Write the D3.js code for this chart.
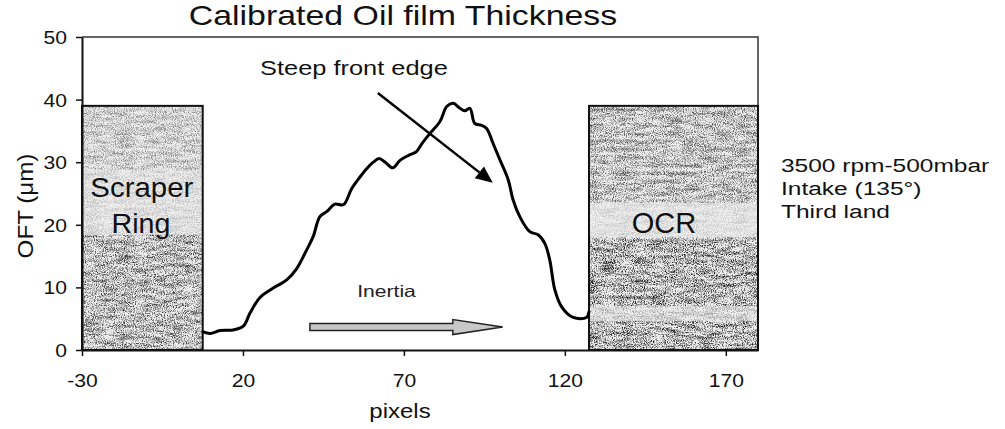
<!DOCTYPE html>
<html>
<head>
<meta charset="utf-8">
<script src="https://cdn.jsdelivr.net/npm/d3@7"></script>
<style>
  body { margin:0; background:#fff; }
  svg { display:block; font-family:"Liberation Sans", Arial, sans-serif; }
  text { fill:#111; }
</style>
</head>
<body>
<div id="chart"></div>
<script>
// curve (pixels vs OFT in um)
var pixels = [7.6, 9.8, 12.9, 17.0, 20.1, 22.2, 25.3, 29.4, 33.6, 36.7, 39.8, 41.8, 43.9, 46.0, 48.6, 51.2, 53.8, 56.3, 58.5, 60.5,
  62.3, 64.2, 66.5, 68.8, 71.9, 73.9, 75.5, 78.1, 81.2, 83.3, 85.3, 87.2, 88.9, 90.5, 92.0, 94.1, 95.7, 97.7, 99.8, 102.4,
  103.9, 106.0, 109.1, 111.7, 113.8, 115.3, 116.9, 119.0, 122.6, 126.7, 127.5]
var oft = [2.9, 2.65, 3.1, 3.2, 3.8, 5.9, 8.4, 9.9, 11.2, 13.0, 16.0, 18.1, 21.3, 22.1, 23.3, 23.2, 25.8, 27.6, 29.0, 30.0,
  30.6, 30.0, 29.1, 30.3, 31.2, 31.7, 32.9, 34.6, 36.5, 38.9, 39.4, 38.7, 38.2, 38.6, 36.2, 35.9, 35.4, 33.0, 30.4, 27.2,
  24.0, 21.3, 18.9, 18.4, 17.0, 14.4, 9.6, 6.9, 5.2, 5.2, 6.1]

var xTicks = [-30, 20, 70, 120, 170]
var yTicks = [0, 10, 20, 30, 40, 50]

// ring shadows
var rings = [
  {name:["Scraper","Ring"], x0:-30, x1:7.5, top:39},
  {name:["OCR"], x0:127.5, x1:180, top:39}
]
// grey bands inside each ring box: [from, to, darkness]
var scraperBands = [[39, 28.8, 0.45], [28.8, 18.4, 0.22], [18.4, 0, 0.75]]
var ocrBands = [[39, 23.5, 0.65], [23.5, 18, 0.18], [18, 7, 0.85], [7, 4.6, 0.35], [4.6, 0, 0.85]]

var notes = ["3500 rpm-500mbar", "Intake (135\u00b0)", "Third land"]

var W = 1005, H = 429
var svg = d3.select('#chart').append('svg').attr('width', W).attr('height', H)

var x = d3.scaleLinear().domain([-30, 180]).range([82, 758])
var y = d3.scaleLinear().domain([0, 50]).range([350, 37])

function addText(parent, px, py, str, size, sx, anchor){
  return parent.append('text')
    .attr('transform', 'translate(' + px + ',' + py + ') scale(' + sx + ',1)')
    .attr('text-anchor', anchor || 'start')
    .style('font-size', size + 'px')
    .text(str)
}

// speckle texture for the shaded boxes
var defs = svg.append('defs')
var f = defs.append('filter').attr('id', 'speckle')
  .attr('x', 0).attr('y', 0).attr('width', 1).attr('height', 1)
  .attr('color-interpolation-filters', 'sRGB')
f.append('feTurbulence').attr('type', 'fractalNoise').attr('baseFrequency', '0.9 0.9')
  .attr('numOctaves', 2).attr('seed', 4).attr('result', 'n1')
f.append('feTurbulence').attr('type', 'fractalNoise').attr('baseFrequency', '0.06 0.25')
  .attr('numOctaves', 2).attr('seed', 11).attr('result', 'n2')
f.append('feComposite').attr('in', 'n1').attr('in2', 'n2').attr('operator', 'arithmetic')
  .attr('k1', 0).attr('k2', 0.8).attr('k3', 0.35).attr('k4', -0.07).attr('result', 'n')
f.append('feColorMatrix').attr('in', 'n').attr('type', 'matrix')
  .attr('values', '0 0 0 0 0  0 0 0 0 0  0 0 0 0 0  3.2 0 0 0 -1.1').attr('result', 'dots')
f.append('feGaussianBlur').attr('in', 'dots').attr('stdDeviation', 0.4).attr('result', 'soft')
f.append('feComposite').attr('in', 'soft').attr('in2', 'SourceAlpha').attr('operator', 'in')

// frame: top and right edge
svg.append('path')
  .attr('d', 'M' + x(-30) + ',' + y(50) + 'H' + x(180) + 'V' + y(39))
  .attr('fill', 'none').attr('stroke', '#333').attr('stroke-width', 1.5)

// boxes for the rings
var boxes = svg.selectAll('g.ring').data(rings).enter().append('g').attr('class', 'ring')
boxes.append('rect')
  .attr('x', function(d){ return x(d.x0) })
  .attr('y', function(d){ return y(d.top) })
  .attr('width', function(d){ return x(d.x1) - x(d.x0) })
  .attr('height', function(d){ return y(0) - y(d.top) })
  .attr('fill', '#eeeeee')

boxes.each(function(d, i){
  var bands = (i == 0) ? scraperBands : ocrBands
  d3.select(this).selectAll('rect.band').data(bands).enter().append('rect')
    .attr('class', 'band')
    .attr('x', x(d.x0))
    .attr('y', function(b){ return y(b[0]) })
    .attr('width', x(d.x1) - x(d.x0))
    .attr('height', function(b){ return y(b[1]) - y(b[0]) })
    .attr('fill', '#000')
    .attr('opacity', function(b){ return b[2] })
    .attr('filter', 'url(#speckle)')
})

boxes.append('rect')
  .attr('x', function(d){ return x(d.x0) })
  .attr('y', function(d){ return y(d.top) })
  .attr('width', function(d){ return x(d.x1) - x(d.x0) })
  .attr('height', function(d){ return y(0) - y(d.top) })
  .attr('fill', 'none').attr('stroke', '#111').attr('stroke-width', 2)

// box labels
addText(svg, x(-11.4), 197, rings[0].name[0], 27, 1.09, 'middle')
addText(svg, x(-11.7), 233, rings[0].name[1], 27, 1.06, 'middle')
addText(svg, x(150.8), 233, rings[1].name[0], 29, 1.0, 'middle')

// axes
var plain = function(d){ return String(d) }
var yAxis = svg.append('g').attr('transform', 'translate(' + x(-30) + ',0)')
  .call(d3.axisLeft(y).tickValues(yTicks).tickFormat(plain).tickSize(6).tickSizeOuter(0))
var xAxis = svg.append('g').attr('transform', 'translate(0,' + y(0) + ')')
  .call(d3.axisBottom(x).tickValues(xTicks).tickFormat(plain).tickSize(6).tickSizeOuter(0))

svg.selectAll('.domain').attr('stroke', '#111').attr('stroke-width', 2)
svg.selectAll('.tick line').attr('stroke', '#111').attr('stroke-width', 1.5)

yAxis.selectAll('.tick text')
  .attr('x', null).attr('dy', null)
  .attr('transform', 'translate(-15,6.5) scale(1.14,1)')
  .style('font-size', '18.5px').attr('fill', '#111')
xAxis.selectAll('.tick text')
  .attr('y', null).attr('dy', null)
  .attr('transform', 'translate(0,37) scale(1.14,1)')
  .style('font-size', '18.5px').attr('fill', '#111')
svg.selectAll('.tick text').style('font-family', '"Liberation Sans", Arial, sans-serif')

// the film thickness curve
var pts = pixels.map(function(p, i){ return [p, oft[i]] })
var line = d3.line()
  .x(function(d){ return x(d[0]) })
  .y(function(d){ return y(d[1]) })
  .curve(d3.curveCatmullRom.alpha(0.5))
svg.append('path').datum(pts)
  .attr('d', line)
  .attr('fill', 'none').attr('stroke', '#000')
  .attr('stroke-width', 3).attr('stroke-linejoin', 'round').attr('stroke-linecap', 'round')

// "Steep front edge" arrow
var a0 = [x(61.9), y(41.05)], a1 = [x(97.6), y(26.7)]
var ang = Math.atan2(a1[1] - a0[1], a1[0] - a0[0])
var hl = 17, hw = 7.5
var back = [a1[0] - hl * Math.cos(ang), a1[1] - hl * Math.sin(ang)]
svg.append('line')
  .attr('x1', a0[0]).attr('y1', a0[1]).attr('x2', back[0]).attr('y2', back[1])
  .attr('stroke', '#000').attr('stroke-width', 2.5)
svg.append('path')
  .attr('d', 'M' + a1[0] + ',' + a1[1] +
    'L' + (back[0] + hw * Math.sin(ang)) + ',' + (back[1] - hw * Math.cos(ang)) +
    'L' + (back[0] - hw * Math.sin(ang)) + ',' + (back[1] + hw * Math.cos(ang)) + 'Z')
  .attr('fill', '#000')
addText(svg, x(25.3), 75, 'Steep front edge', 21, 1.21, 'start')

// "Inertia" block arrow
var iy = y(3.67), ix0 = x(40.8), ix1 = x(100.7), ih = x(85.2)
svg.append('path')
  .attr('d', 'M' + ix0 + ',' + (iy - 3.5) + 'H' + ih + 'V' + (iy - 7.5) + 'L' + ix1 + ',' + iy +
    'L' + ih + ',' + (iy + 7.5) + 'V' + (iy + 3.5) + 'H' + ix0 + 'Z')
  .attr('fill', '#c8c8c8').attr('stroke', '#222').attr('stroke-width', 1.5)
addText(svg, x(64.6), 297, 'Inertia', 16.5, 1.28, 'middle').style('fill', '#222')

// titles
addText(svg, 403, 25, 'Calibrated Oil film Thickness', 28, 1.21, 'middle')
addText(svg, 400, 418, 'pixels', 20, 1.2, 'middle')
svg.append('text')
  .attr('transform', 'translate(33,206) rotate(-90) scale(1.1,1)')
  .attr('text-anchor', 'middle')
  .style('font-size', '22px')
  .text('OFT (\u03bcm)')

// run conditions
var noteG = svg.append('g').attr('transform', 'translate(781,171.7)')
noteG.selectAll('text').data(notes).enter().append('text')
  .attr('transform', function(d, i){ return 'translate(0,' + (i * 23.3) + ') scale(1.29,1)' })
  .style('font-size', '19px')
  .text(function(d){ return d })
</script>
</body>
</html>
